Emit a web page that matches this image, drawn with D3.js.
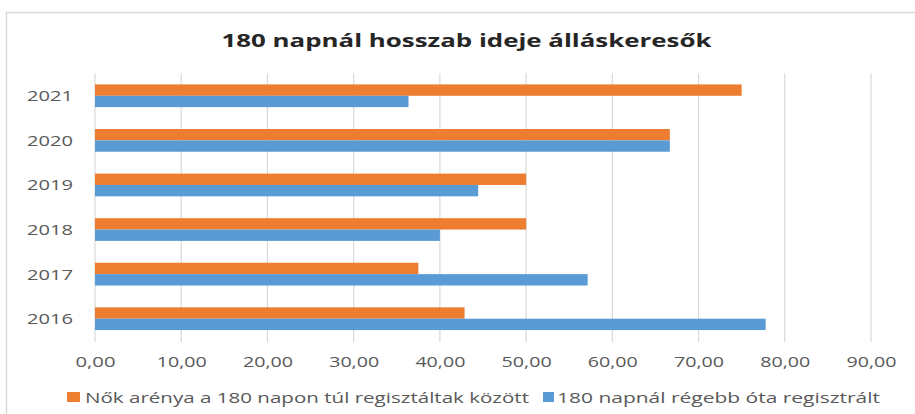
<!DOCTYPE html>
<html>
<head>
<meta charset="utf-8">
<script src="https://cdn.jsdelivr.net/npm/d3@7"></script>
<style>
  html, body { margin: 0; padding: 0; background: #fff; }
  svg { display: block; }
</style>
</head>
<body>
<svg id="chart" width="915" height="414"></svg>
<script>
const title = "180 napnál hosszab ideje álláskeresők";
const categories = ["2016", "2017", "2018", "2019", "2020", "2021"];
const seriesNames = ["Nők arénya a 180 napon túl regisztáltak között", "180 napnál régebb óta regisztrált"];
const womenShare = [42.86, 37.5, 50, 50, 66.67, 75];
const longTerm = [77.78, 57.14, 40, 44.44, 66.67, 36.36];
const xTicks = [0, 10, 20, 30, 40, 50, 60, 70, 80, 90];
const colors = ["#ED7D31", "#5B9BD5"];

const svg = d3.select("#chart");
const font = "'Open Sans', 'Liberation Sans', sans-serif";

// chart border
svg.append("rect")
  .attr("x", 6.5).attr("y", 12.5)
  .attr("width", 920).attr("height", 420)
  .attr("fill", "#fff").attr("stroke", "#D9D9D9").attr("stroke-width", 1.5);

const plotLeft = 95, plotRight = 871, plotTop = 73.5, plotBottom = 341;

const x = d3.scaleLinear().domain([0, 90]).range([plotLeft, plotRight]);
const y = d3.scaleBand().domain(categories.slice().reverse())
  .range([plotTop, plotBottom]).paddingInner(0.49).paddingOuter(0.245);
const ySub = d3.scaleBand().domain([0, 1]).range([0, y.bandwidth()]);

// gridlines
svg.append("g").selectAll("line").data(xTicks).join("line")
  .attr("x1", d => x(d)).attr("x2", d => x(d))
  .attr("y1", plotTop).attr("y2", plotBottom + 1)
  .attr("stroke", "#D9D9D9").attr("stroke-width", 1.2);

// bars
const seriesData = [womenShare, longTerm];
seriesData.forEach((vals, si) => {
  svg.append("g").selectAll("rect").data(categories).join("rect")
    .attr("x", x(0))
    .attr("y", (c) => y(c) + ySub(si))
    .attr("width", (c, i) => x(vals[i]) - x(0))
    .attr("height", ySub.bandwidth())
    .attr("fill", colors[si]);
});

// x axis labels
const fmt = d => d.toFixed(2).replace(".", ",");
const xAxis = d3.axisBottom(x).tickValues(xTicks).tickFormat(fmt).tickSize(0).tickPadding(0);
const gx = svg.append("g").attr("transform", `translate(0, ${367})`).call(xAxis);
gx.select(".domain").remove();
gx.selectAll("text")
  .attr("dy", 0).attr("y", 0)
  .attr("font-family", font).attr("font-size", 14.5).attr("fill", "#595959")
  .attr("textLength", d => fmt(d).length * 10)
  .attr("lengthAdjust", "spacingAndGlyphs");

// y axis labels
const yAxis = d3.axisLeft(y).tickSize(0).tickPadding(0);
const gy = svg.append("g").attr("transform", `translate(${73}, 0)`).call(yAxis);
gy.select(".domain").remove();
gy.selectAll("text")
  .attr("dy", "0.36em")
  .attr("font-family", font).attr("font-size", 15).attr("fill", "#595959")
  .attr("textLength", 46).attr("lengthAdjust", "spacingAndGlyphs");

// title
svg.append("text")
  .attr("x", 221.5).attr("y", 47)
  .attr("font-family", font).attr("font-size", 17).attr("font-weight", "bold")
  .attr("fill", "#262626")
  .attr("textLength", 490).attr("lengthAdjust", "spacingAndGlyphs")
  .text(title);

// legend
const legendItems = [
  { sx: 67, sw: 13, tx: 85, tl: 444 },
  { sx: 543, sw: 11, tx: 557, tl: 323 }
];
legendItems.forEach((li, i) => {
  svg.append("rect").attr("x", li.sx).attr("y", 392).attr("width", li.sw).attr("height", 10)
    .attr("fill", colors[i]);
  svg.append("text").attr("x", li.tx).attr("y", 402.5)
    .attr("font-family", font).attr("font-size", 15).attr("fill", "#595959")
    .attr("textLength", li.tl).attr("lengthAdjust", "spacingAndGlyphs")
    .text(seriesNames[i]);
});
</script>
</body>
</html>
